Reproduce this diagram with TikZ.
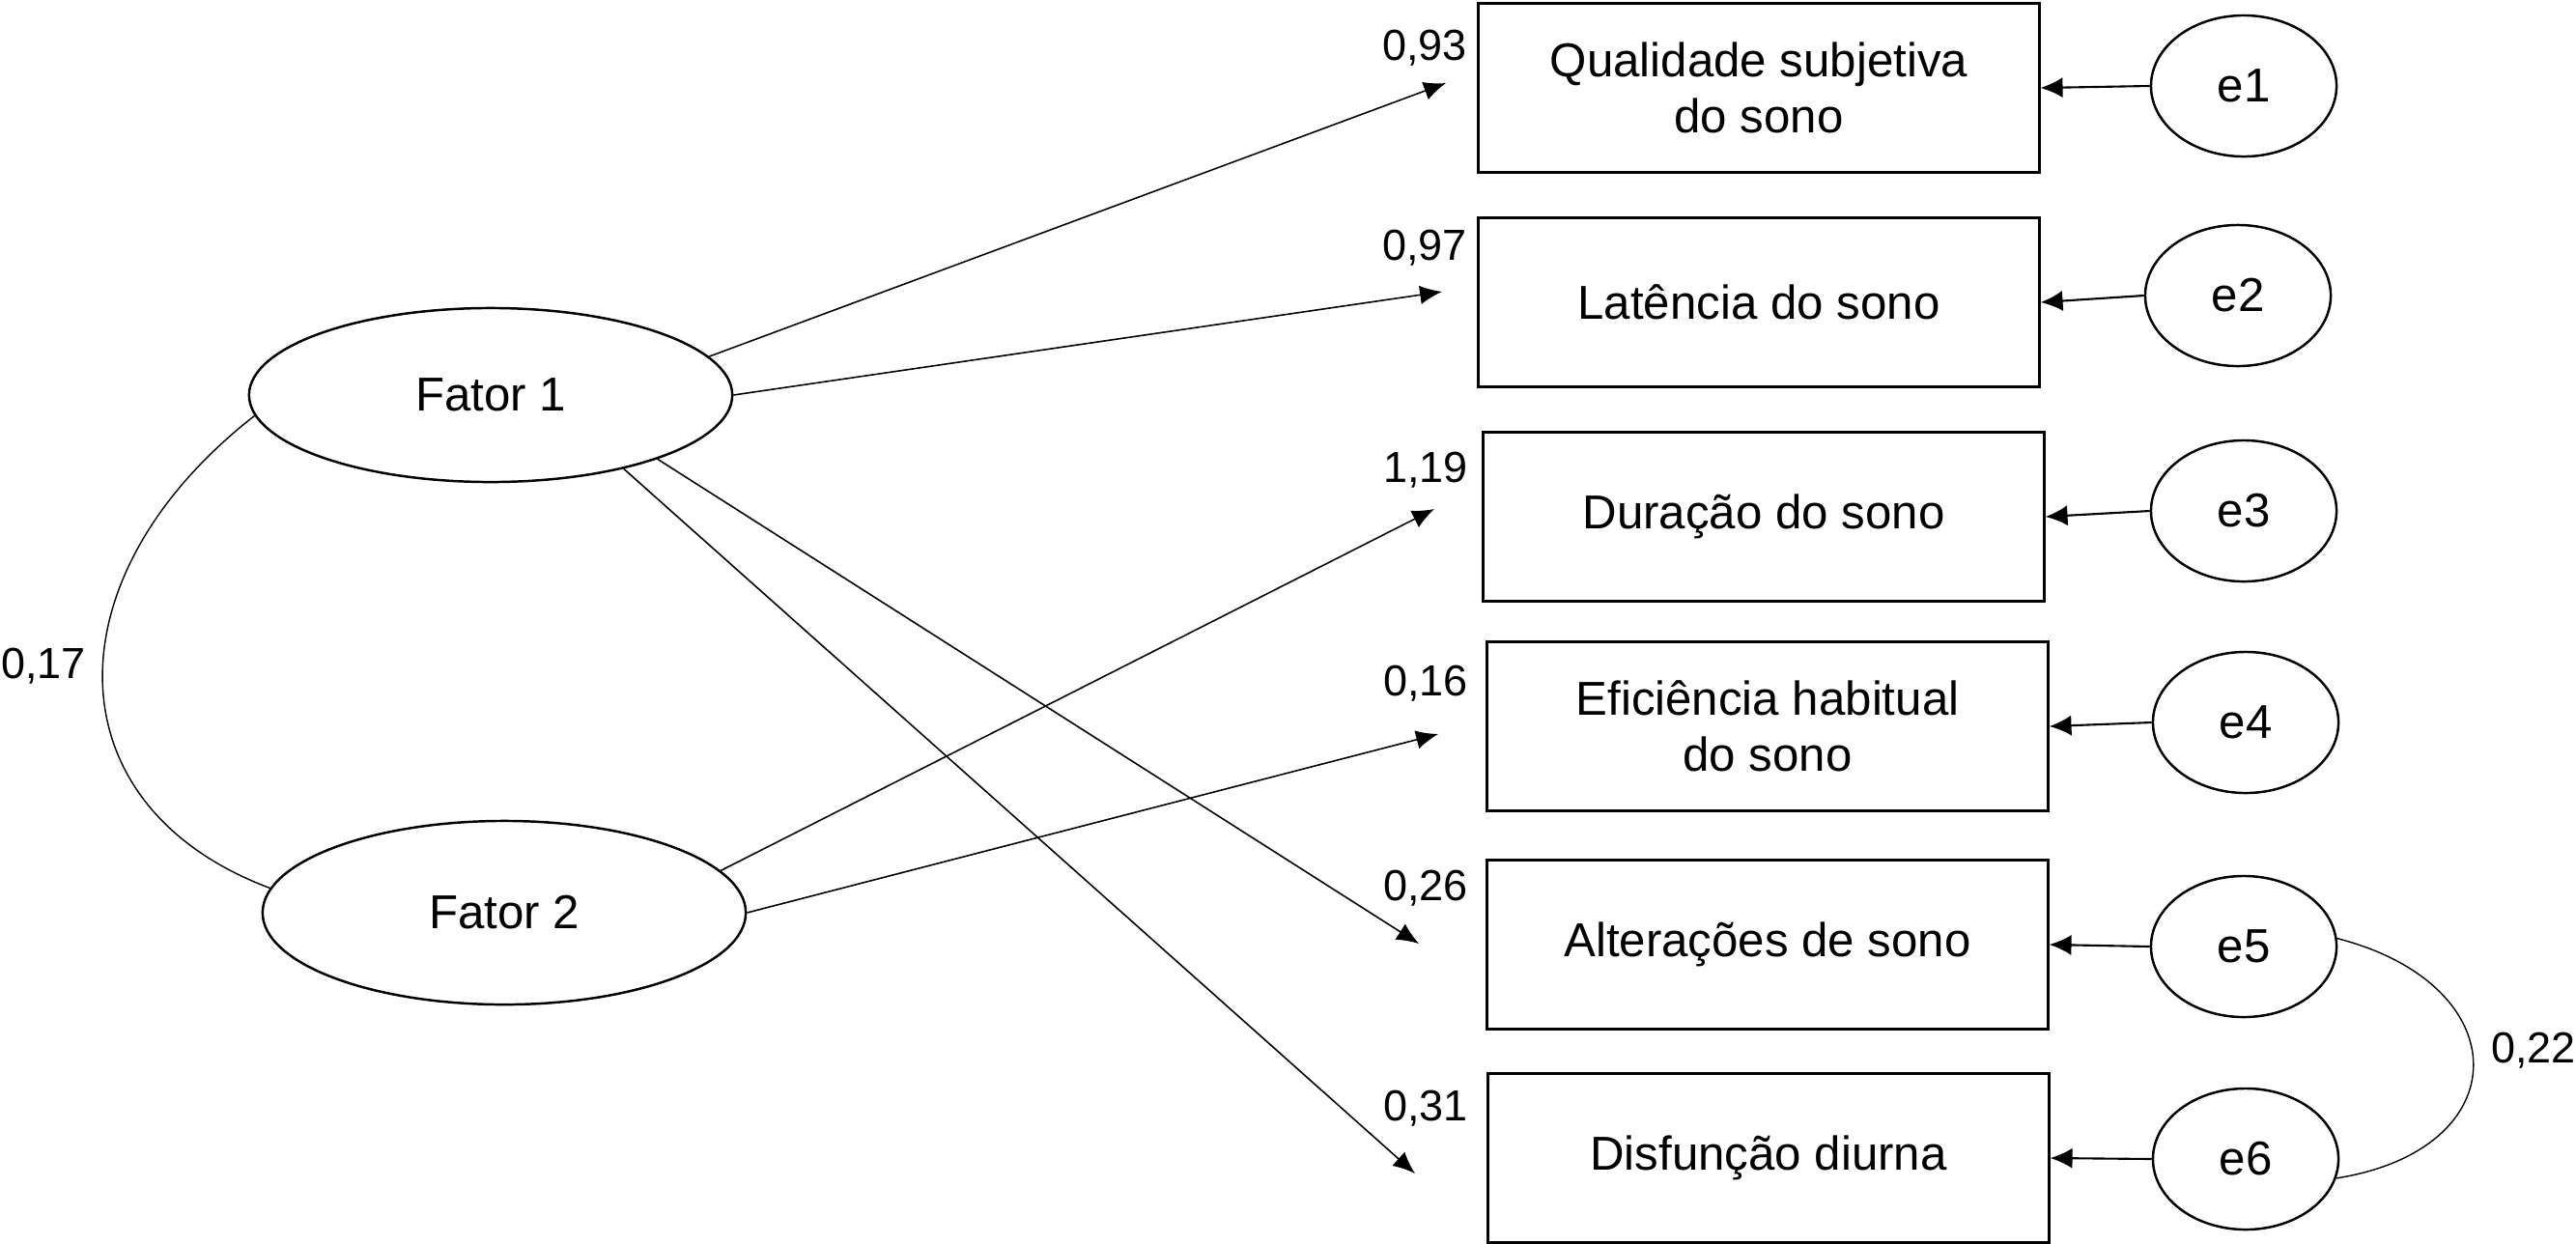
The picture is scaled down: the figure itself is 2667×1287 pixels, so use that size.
\documentclass[tikz,border=0pt]{standalone}
\usepackage{fontspec}
\setmainfont{Liberation Sans}
\usetikzlibrary{shapes.geometric,arrows.meta}
\begin{document}
\begin{tikzpicture}[x=0.01cm,y=-0.01cm,
  obs/.style={draw,line width=0.85pt,minimum width=5.8cm,minimum height=1.74cm,align=center,
    font=\fontsize{14}{16.5}\selectfont,inner sep=0pt},
  lat/.style={draw,ellipse,line width=0.7pt,minimum width=5cm,inner sep=0pt,
    font=\fontsize{14}{16.5}\selectfont},
  err/.style={draw,ellipse,line width=0.7pt,minimum width=1.92cm,minimum height=1.46cm,inner sep=0pt,
    font=\fontsize{14}{16.5}\selectfont},
  num/.style={font=\fontsize{12.8}{15}\selectfont,inner sep=0pt},
  load/.style={line width=0.45pt,-{Latex[length=6.5pt,width=5.5pt]}},
  res/.style={line width=0.6pt,-{Latex[length=6.5pt,width=6pt]}},
  cov/.style={line width=0.4pt}]
\useasboundingbox (0,0) rectangle (2667,1287);

% observed variables
\node[obs] (b1) at (1821,91)   {Qualidade subjetiva\\do sono};
\node[obs] (b2) at (1821,313)  {Latência do sono};
\node[obs] (b3) at (1826,535)  {Duração do sono};
\node[obs] (b4) at (1830,752)  {Eficiência habitual\\do sono};
\node[obs] (b5) at (1830,978)  {Alterações de sono};
\node[obs] (b6) at (1831,1199) {Disfunção diurna};

% error terms
\node[err] (e1) at (2323,89)   {e1};
\node[err] (e2) at (2317,306)  {e2};
\node[err] (e3) at (2323,529)  {e3};
\node[err] (e4) at (2325,748)  {e4};
\node[err] (e5) at (2323,980)  {e5};
\node[err] (e6) at (2325,1200) {e6};

% latent factors
\node[lat,minimum height=1.8cm] (f1) at (508,409) {Fator 1};
\node[lat,minimum height=1.9cm] (f2) at (522,945) {Fator 2};

% arrow tips
\coordinate (t1) at (1497,86);
\coordinate (t2) at (1493,302);
\coordinate (t3) at (1485,527);
\coordinate (t4) at (1489,760);
\coordinate (t5) at (1469,977);
\coordinate (t6) at (1465,1215);

% loadings
\draw[load] (f1.10.9)  -- (t1);
\draw[load] (f1.0)     -- (t2);
\draw[load] (f1.-21.5) -- (t5);
\draw[load] (f1.-29.7) -- (t6);
\draw[load] (f2.11.2)  -- (t3);
\draw[load] (f2.0)     -- (t4);

% loading labels
\node[num] (l1) at (1475,50)   {0,93};
\node[num] (l2) at (1475,257)  {0,97};
\node[num] (l3) at (1476,487)  {1,19};
\node[num] (l4) at (1476,708)  {0,16};
\node[num] (l5) at (1476,920)  {0,26};
\node[num] (l6) at (1476,1148) {0,31};

% residual arrows
\draw[res] (e1.west) -- (b1.east);
\draw[res] (e2.west) -- (b2.east);
\draw[res] (e3.west) -- (b3.east);
\draw[res] (e4.west) -- (b4.east);
\draw[res] (e5.west) -- (b5.east);
\draw[res] (e6.west) -- (b6.east);

% covariances
\draw[cov] (f1.185.8) .. controls (51,596) and (51,834) .. (f2.174.8);
\node[num] (c17) at (45,690) {0,17};
\draw[cov] (e5.5) .. controls (2608,1020) and (2608,1190) .. (e6.-12);
\node[num] (c22) at (2623,1088) {0,22};
\end{tikzpicture}
\end{document}
